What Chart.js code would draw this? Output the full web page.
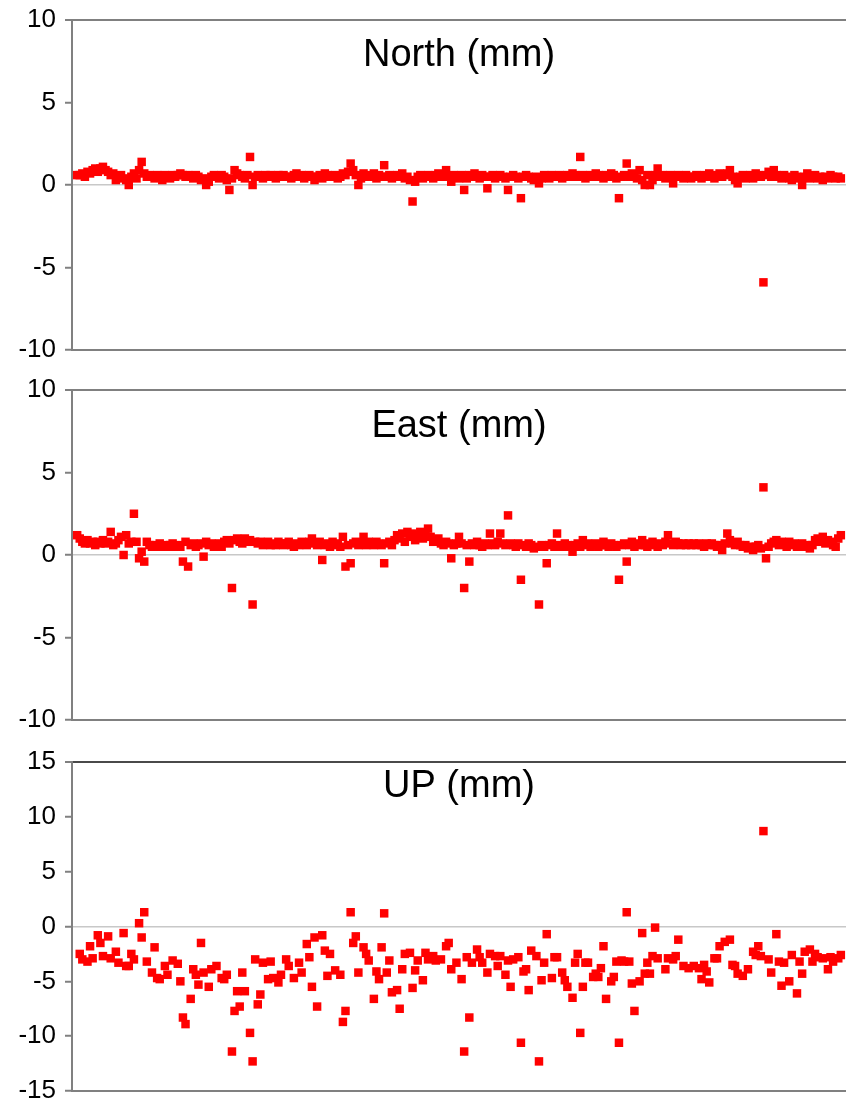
<!DOCTYPE html>
<html>
<head>
<meta charset="utf-8">
<title>North / East / Up</title>
<script src="https://cdn.jsdelivr.net/npm/chart.js@4.4.1/dist/chart.umd.min.js"></script>
<style>
  html, body { margin: 0; padding: 0; background: #fff; overflow: hidden; }
  canvas { position: absolute; left: 0; display: block; }
  #north-chart { top: 0; }
  #east-chart { top: 365px; }
  #up-chart { top: 735px; }
</style>
</head>
<body>
<canvas id="north-chart" width="846" height="365"></canvas>
<canvas id="east-chart" width="846" height="370"></canvas>
<canvas id="up-chart" width="846" height="367"></canvas>
<script>
// daily residuals, mm — North and East run from day 2 to day 298
const firstDay = 2;

const northValues = [
  0.6, 0.6, 0.7, 0.5, 0.8, 0.7, 0.9, 1.0, 0.8, 1.0,
  1.1, 0.9, 0.8, 0.6, 0.7, 0.3, 0.5, 0.6, 0.4, 0.3,
  0.0, 0.5, 0.7, 0.4, 0.9, 1.4, 0.7, 0.5, 0.6, 0.5,
  0.4, 0.6, 0.5, 0.3, 0.6, 0.5, 0.4, 0.6, 0.5, 0.6,
  0.7, 0.6, 0.5, 0.6, 0.5, 0.4, 0.6, 0.5, 0.3, 0.4,
  0.0, 0.2, 0.5, 0.6, 0.5, 0.4, 0.6, 0.5, 0.3, -0.3,
  0.4, 0.9, 0.7, 0.6, 0.5, 0.4, 0.6, 1.7, 0.0, 0.5,
  0.6, 0.5, 0.4, 0.6, 0.5, 0.6, 0.5, 0.4, 0.6, 0.5,
  0.6, 0.5, 0.5, 0.4, 0.6, 0.7, 0.5, 0.6, 0.4, 0.5,
  0.6, 0.5, 0.3, 0.5, 0.6, 0.4, 0.7, 0.6, 0.5, 0.5,
  0.6, 0.4, 0.5, 0.7, 0.6, 0.8, 1.3, 0.9, 0.6, 0.0,
  0.4, 0.7, 0.5, 0.6, 0.5, 0.7, 0.4, 0.6, 0.5, 1.2,
  0.5, 0.6, 0.4, 0.5, 0.6, 0.5, 0.7, 0.4, 0.5, 0.3,
  -1.0, 0.2, 0.5, 0.6, 0.4, 0.5, 0.6, 0.5, 0.4, 0.6,
  0.7, 0.5, 0.6, 0.9, 0.5, 0.2, 0.6, 0.5, 0.4, 0.6,
  -0.3, 0.4, 0.6, 0.5, 0.7, 0.5, 0.4, 0.6, 0.5, -0.2,
  0.5, 0.6, 0.4, 0.5, 0.6, 0.5, 0.4, -0.3, 0.5, 0.6,
  0.5, 0.4, -0.8, 0.5, 0.6, 0.5, 0.4, 0.3, 0.5, 0.1,
  0.4, 0.6, 0.5, 0.4, 0.6, 0.5, 0.5, 0.6, 0.4, 0.5,
  0.6, 0.5, 0.7, 0.6, 0.5, 1.7, 0.6, 0.4, 0.5, 0.6,
  0.5, 0.7, 0.6, 0.5, 0.4, 0.6, 0.5, 0.7, 0.6, 0.4,
  -0.8, 0.5, 0.6, 1.3, 0.5, 0.7, 0.6, 0.4, 0.9, 0.3,
  0.0, 0.6, 0.0, 0.3, 0.6, 1.0, 0.5, 0.6, 0.4, 0.5,
  0.6, 0.1, 0.5, 0.6, 0.5, 0.4, 0.6, 0.5, 0.4, 0.5,
  0.6, 0.5, 0.4, 0.6, 0.5, 0.7, 0.5, 0.4, 0.6, 0.7,
  0.5, 0.6, 0.7, 0.9, 0.5, 0.3, 0.1, 0.5, 0.6, 0.4,
  0.5, 0.6, 0.4, 0.7, 0.6, 0.5, -5.9, 0.6, 0.8, 0.5,
  0.9, 0.6, 0.5, 0.4, 0.6, 0.5, 0.4, 0.3, 0.6, 0.5,
  0.4, 0.0, 0.5, 0.7, 0.4, 0.5, 0.6, 0.4, 0.5, 0.3,
  0.5, 0.4, 0.6, 0.5, 0.4, 0.5, 0.4,
];

const eastValues = [
  1.2, 1.0, 0.8, 0.7, 0.9, 0.7, 0.8, 0.6, 0.8, 0.7,
  0.9, 0.7, 0.8, 1.4, 0.6, 0.7, 0.9, 1.1, 0.0, 1.2,
  0.7, 0.8, 2.5, 0.8, -0.2, 0.2, -0.4, 0.8, 0.6, 0.5,
  0.6, 0.5, 0.7, 0.5, 0.6, 0.5, 0.6, 0.7, 0.5, 0.6,
  0.5, -0.4, 0.8, -0.7, 0.6, 0.7, 0.5, 0.6, 0.7, -0.1,
  0.8, 0.6, 0.7, 0.5, 0.6, 0.7, 0.5, 0.8, 0.9, 0.7,
  -2.0, 0.9, 1.0, 0.8, 0.7, 1.0, 0.8, 0.9, -3.0, 0.8,
  0.7, 0.8, 0.6, 0.7, 0.8, 0.6, 0.7, 0.6, 0.8, 0.7,
  0.6, 0.7, 0.8, 0.6, 0.5, 0.7, 0.6, 0.8, 0.7, 0.6,
  0.8, 1.0, 0.7, 0.6, 0.8, -0.3, 0.6, 0.7, 0.5, 0.8,
  0.7, 0.6, 0.5, 1.1, -0.7, 0.6, -0.5, 0.7, 0.8, 0.6,
  0.7, 1.1, 0.6, 0.8, 0.7, 0.6, 0.8, 0.7, 0.6, -0.5,
  0.7, 0.8, 0.6, 0.9, 1.2, 1.0, 1.3, 0.8, 1.4, 1.1,
  1.3, 0.9, 1.2, 1.4, 1.0, 1.3, 1.6, 1.1, 0.8, 0.9,
  1.0, 0.7, 0.6, 0.8, 0.7, -0.2, 0.6, 0.7, 1.1, 0.7,
  -2.0, 0.6, -0.4, 0.7, 0.6, 0.8, 0.6, 0.5, 0.7, 0.6,
  1.3, 0.7, 0.6, 0.8, 1.3, 0.7, 0.6, 2.4, 0.7, 0.6,
  0.5, 0.7, -1.5, 0.6, 0.5, 0.7, 0.6, 0.4, 0.5, -3.0,
  0.6, 0.5, -0.5, 0.6, 0.7, 0.5, 1.3, 0.6, 0.5, 0.7,
  0.6, 0.5, 0.2, 0.6, 0.7, 0.5, 0.9, 0.6, 0.7, 0.5,
  0.6, 0.7, 0.5, 0.6, 0.8, 0.6, 0.5, 0.7, 0.6, 0.5,
  -1.5, 0.6, 0.7, -0.4, 0.6, 0.8, 0.5, 0.7, 0.6, 0.9,
  0.6, 0.5, 0.7, 0.8, 0.6, 0.5, 0.7, 0.6, 0.8, 1.2,
  0.7, 0.6, 0.8, 0.7, 0.6, 0.7, 0.6, 0.7, 0.6, 0.7,
  0.6, 0.7, 0.6, 0.5, 0.7, 0.6, 0.7, 0.6, 0.5, 0.6,
  0.3, 0.7, 1.3, 0.9, 0.7, 0.6, 0.8, 0.6, 0.5, 0.6,
  0.4, 0.5, 0.3, 0.5, 0.6, 0.4, 4.1, -0.2, 0.5, 0.7,
  0.8, 0.9, 0.6, 0.8, 0.7, 0.5, 0.8, 0.6, 0.7, 0.5,
  0.6, 0.7, 0.5, 0.6, 0.4, 0.6, 0.9, 1.0, 0.8, 1.1,
  0.7, 0.9, 0.8, 0.6, 0.5, 1.0, 1.2,
];

// the vertical series has gaps, so its days are listed with it
const upDays = [
  3, 4, 6, 7, 8, 10, 11, 12, 14, 15,
  17, 18, 20, 21, 22, 23, 24, 26, 27, 28,
  29, 31, 32, 33, 34, 36, 37, 39, 41, 42,
  43, 44, 46, 47, 48, 49, 50, 51, 53, 54,
  56, 58, 59, 60, 62, 63, 64, 65, 66, 67,
  69, 70, 71, 72, 73, 74, 76, 77, 78, 80,
  81, 83, 84, 86, 88, 89, 91, 92, 93, 94,
  95, 97, 98, 99, 100, 102, 104, 105, 106, 108,
  109, 110, 111, 113, 114, 115, 117, 118, 119, 120,
  121, 122, 123, 124, 126, 127, 128, 129, 131, 132,
  133, 134, 136, 137, 138, 140, 141, 143, 145, 146,
  147, 149, 151, 152, 153, 154, 155, 157, 158, 159,
  161, 162, 164, 165, 166, 168, 169, 170, 171, 173,
  174, 175, 176, 177, 178, 180, 181, 182, 183, 184,
  186, 187, 188, 190, 191, 192, 194, 195, 196, 197,
  198, 199, 200, 202, 203, 204, 205, 206, 207, 209,
  210, 211, 212, 213, 214, 215, 216, 217, 218, 220,
  221, 222, 223, 224, 225, 226, 227, 230, 231, 233,
  234, 235, 237, 239, 241, 243, 244, 245, 246, 247,
  249, 250, 251, 253, 255, 256, 257, 258, 260, 262,
  264, 265, 266, 267, 268, 270, 271, 273, 274, 275,
  276, 278, 279, 281, 282, 283, 284, 286, 287, 288,
  289, 291, 293, 294, 295, 297, 298,
];

const upValues = [
  -2.5, -3.0, -3.2, -1.8, -2.9, -0.8, -1.5, -2.7, -0.9, -2.9,
  -2.3, -3.3, -0.6, -3.6, -3.6, -2.5, -3.0, 0.3, -1.0, 1.3,
  -3.2, -4.2, -1.9, -4.7, -4.8, -3.6, -4.4, -3.1, -3.4, -5.0,
  -8.3, -8.9, -6.6, -3.9, -4.4, -5.3, -1.5, -4.2, -5.5, -3.9,
  -3.6, -4.7, -4.8, -4.4, -11.4, -7.7, -5.9, -7.3, -4.2, -5.9,
  -9.7, -12.3, -3.0, -7.1, -6.2, -3.3, -4.8, -3.2, -4.7, -5.1,
  -4.4, -3.0, -3.6, -4.7, -3.3, -4.2, -1.6, -2.8, -5.5, -1.0,
  -7.3, -0.8, -2.2, -4.5, -2.5, -4.0, -4.4, -8.7, -7.7, 1.3,
  -1.5, -0.9, -4.2, -1.9, -2.5, -3.1, -6.6, -4.1, -4.8, -1.9,
  1.2, -4.2, -3.1, -6.0, -5.8, -7.5, -3.9, -2.5, -2.4, -5.6,
  -4.0, -3.1, -4.9, -2.4, -3.0, -2.7, -3.1, -3.0, -1.8, -1.5,
  -3.9, -3.3, -4.8, -11.4, -2.8, -8.3, -3.3, -2.1, -2.8, -3.3,
  -4.2, -2.5, -2.7, -3.6, -2.7, -4.4, -3.1, -5.5, -3.0, -2.8,
  -10.6, -4.1, -3.9, -5.8, -2.2, -2.7, -12.3, -4.9, -3.3, -0.7,
  -4.7, -2.8, -2.8, -4.2, -4.9, -5.5, -6.5, -3.3, -2.5, -9.7,
  -5.5, -3.3, -3.3, -4.6, -4.3, -4.6, -3.8, -1.8, -6.6, -5.0,
  -4.6, -3.2, -10.6, -3.1, -3.2, 1.3, -3.2, -5.2, -7.7, -5.0,
  -0.6, -4.3, -3.3, -4.3, -2.7, -0.1, -2.9, -3.9, -2.9, -3.0,
  -2.7, -1.2, -3.6, -3.8, -3.6, -3.8, -4.8, -3.5, -4.1, -5.1,
  -2.9, -2.9, -1.8, -1.4, -1.2, -3.5, -3.6, -4.3, -4.5, -3.9,
  -2.3, -2.6, -1.8, -2.7, 8.7, -3.0, -4.2, -0.7, -3.2, -5.4,
  -3.3, -5.0, -2.6, -6.1, -3.2, -4.3, -2.3, -2.1, -3.2, -2.5,
  -2.8, -2.9, -3.9, -2.8, -3.2, -2.9, -2.6,
];

const northTicks = [-10, -5, 0, 5, 10];
const eastTicks = [-10, -5, 0, 5, 10];
const upTicks = [-15, -10, -5, 0, 5, 10, 15];

const axisGrey = "#808080";
const fontFamily = "'Liberation Sans', Arial, sans-serif";

// heading drawn inside the plot, centred over it
const panelTitle = {
  id: "panelTitle",
  afterDraw(chart, args, opts) {
    const { ctx, chartArea } = chart;
    ctx.save();
    ctx.font = `38px ${fontFamily}`;
    ctx.fillStyle = "#000";
    ctx.textAlign = "center";
    ctx.textBaseline = "alphabetic";
    ctx.fillText(opts.text, (chartArea.left + chartArea.right) / 2, chartArea.top + opts.offset);
    ctx.restore();
  },
};

function dailyPoints(values) {
  return values.map((v, i) => ({ x: firstDay + i, y: v }));
}

function buildPanel(canvasId, points, ticks, title, titleOffset, padding) {
  const lo = ticks[0];
  const hi = ticks[ticks.length - 1];
  return new Chart(document.getElementById(canvasId), {
    type: "scatter",
    data: {
      datasets: [
        {
          data: points,
          pointStyle: "rect",
          pointRadius: 6,
          pointBorderWidth: 0,
          backgroundColor: "#ff0000",
          borderColor: "#ff0000",
        },
      ],
    },
    plugins: [panelTitle],
    options: {
      responsive: false,
      animation: false,
      events: [],
      layout: { padding, autoPadding: false },
      plugins: {
        legend: { display: false },
        tooltip: { enabled: false },
        panelTitle: { text: title, offset: titleOffset },
      },
      scales: {
        x: {
          type: "linear",
          min: 0,
          max: 300,
          ticks: { display: false },
          grid: { display: false, drawTicks: false },
          border: { color: axisGrey, width: 2 },
        },
        y: {
          min: lo,
          max: hi,
          afterFit(scale) {
            // fixed gutter; tick labels may overhang the plot edges
            scale.width = 72;
            scale.paddingTop = 0;
            scale.paddingBottom = 0;
          },
          afterBuildTicks(scale) {
            scale.ticks = ticks.map((value) => ({ value }));
          },
          ticks: {
            color: "#000",
            padding: 9,
            font: { family: fontFamily, size: 26 },
          },
          grid: {
            tickLength: 7,
            tickColor: axisGrey,
            tickWidth: 2,
            color(ctx) {
              if (!ctx.tick) return "rgba(0,0,0,0)";
              if (ctx.tick.value === 0) return "#c8c8c8";
              if (ctx.tick.value === hi) return canvasId === "up-chart" ? "#4a4a4a" : axisGrey;
              return "rgba(0,0,0,0)";
            },
            lineWidth(ctx) {
              if (ctx.tick && ctx.tick.value === hi) return 2;
              return 1.5;
            },
          },
          border: { color: axisGrey, width: 2 },
        },
      },
    },
  });
}

buildPanel("north-chart", dailyPoints(northValues), northTicks, "North (mm)", 46,
  { top: 20, bottom: 15, left: 0, right: 0 });
buildPanel("east-chart", dailyPoints(eastValues), eastTicks, "East (mm)", 47,
  { top: 25, bottom: 15, left: 0, right: 0 });
buildPanel("up-chart", upDays.map((d, i) => ({ x: d, y: upValues[i] })), upTicks, "UP (mm)", 35,
  { top: 27, bottom: 11, left: 0, right: 0 });
</script>
</body>
</html>
